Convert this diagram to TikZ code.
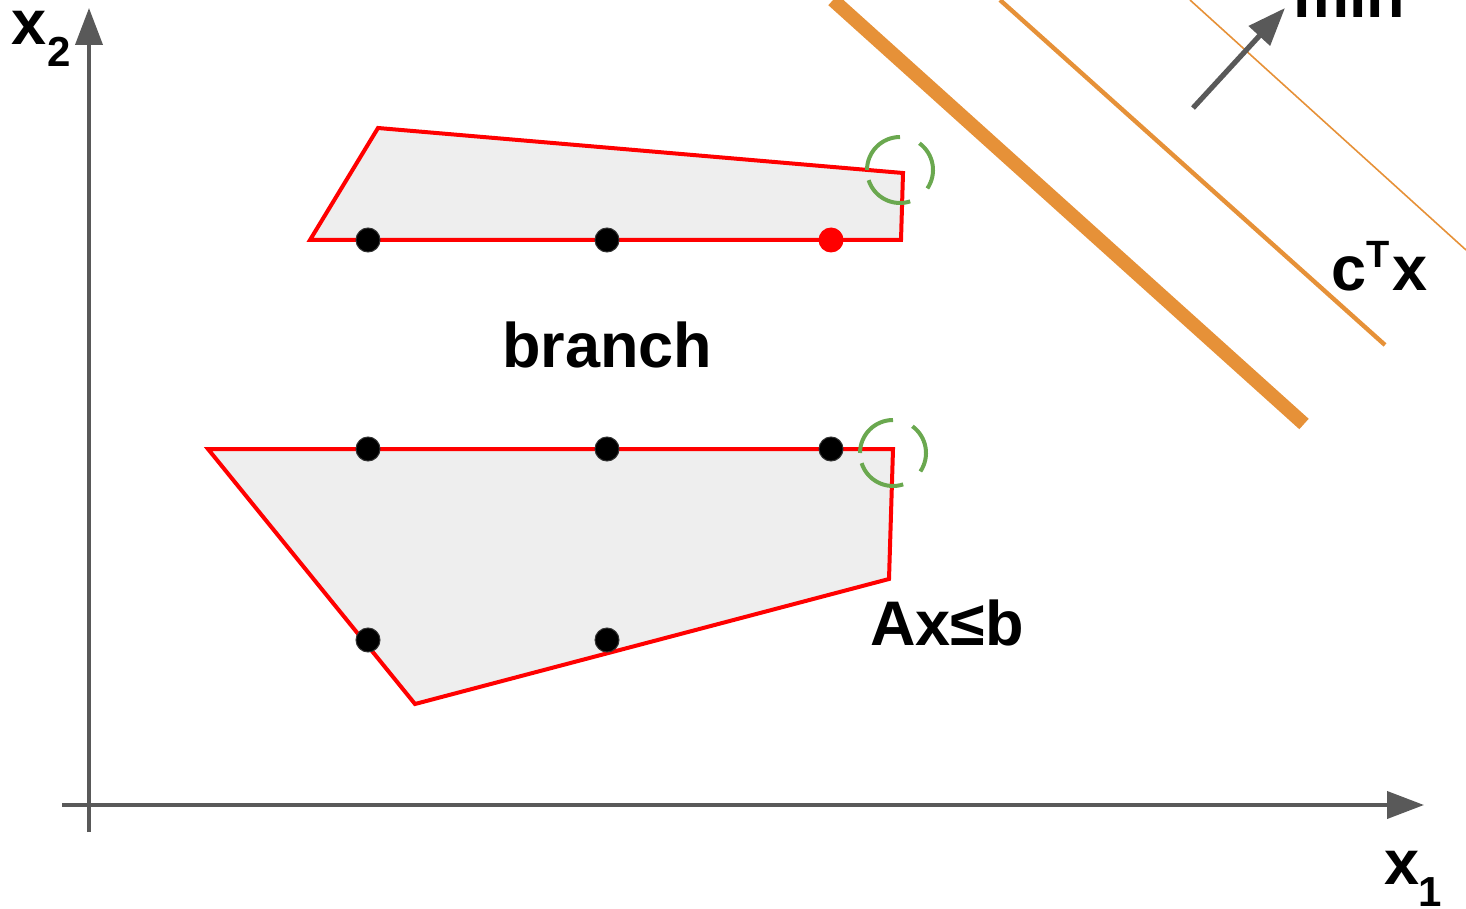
\documentclass[tikz,border=0pt]{standalone}
\usepackage{fontspec}
\setmainfont{Liberation Sans}
\usetikzlibrary{arrows.meta}
\definecolor{edgered}{HTML}{FF0000}
\definecolor{regionfill}{HTML}{EEEEEE}
\definecolor{objorange}{HTML}{E69138}
\definecolor{markgreen}{HTML}{6AA84F}
\definecolor{axisgray}{HTML}{595959}
\begin{document}
\begin{tikzpicture}[x=0.5pt,y=-0.5pt,
  lbl/.style={inner sep=0pt, anchor=base west, font=\fontsize{31.5}{31.5}\selectfont\bfseries},
  sublbl/.style={inner sep=0pt, anchor=base west, font=\fontsize{21}{21}\selectfont\bfseries},
  suplbl/.style={inner sep=0pt, anchor=base west, font=\fontsize{19}{19}\selectfont\bfseries},
  region/.style={draw=edgered, line width=2pt, fill=regionfill, line join=miter},
  axis/.style={draw=axisgray, line width=2pt, -{Triangle[length=18.5pt,width=13.5pt]}},
  level/.style={draw=objorange},
  lattice/.style={fill=black, draw=black!80, line width=0.5pt},
  incumbent/.style={fill=edgered},
  corner/.style={draw=markgreen, line width=2pt}]
\useasboundingbox (0,0) rectangle (1466,909);
\clip (0,0) rectangle (1466,909);

% feasible regions of the two subproblems
\draw[region] (378,128) -- (903,173) -- (901,240) -- (310,240) -- cycle;
\draw[region] (208,449) -- (893,449) -- (889,579) -- (415,704) -- cycle;

% integer points
\foreach \p in {(368,240),(607,240),(368,449),(607,449),(831,449),(368,640),(607,640)}
  \filldraw[lattice] \p circle[radius=12];
\fill[incumbent] (831,240) circle[radius=12.5];

% fractional LP optima marked by dashed circles
\foreach \c in {(900,170),(893,453)} {
  \draw[corner] \c ++(180:33) arc[start angle=180, end angle=270, radius=33];
  \draw[corner] \c ++(72:33) arc[start angle=72, end angle=162, radius=33];
  \draw[corner] \c ++(-54:33) arc[start angle=-54, end angle=34, radius=33];
}

% objective level lines
\draw[level, line width=7pt] (833,0) -- (1304,424);
\draw[level, line width=2.2pt] (1000,0) -- (1385,345);
\draw[level, line width=0.8pt] (1190,0) -- (1466,250);

% direction of optimisation
\coordinate (dirA) at (1193,108);
\coordinate (dirB) at (1285,8);
\draw[axisgray, line width=2.6pt, -{Triangle[length=19pt,width=14pt]}] (dirA) -- (dirB);

% axes
\coordinate (o1) at (89,832);
\coordinate (y2) at (89,8);
\coordinate (o2) at (62,805);
\coordinate (x1) at (1424,805);
\draw[axis] (o1) -- (y2);
\draw[axis] (o2) -- (x1);

% labels
\node[lbl] (lx2) at (11,45) {x};
\node[sublbl] (lx2s) at (47,67) {2};
\node[lbl] (lx1) at (1384,884) {x};
\node[sublbl] (lx1s) at (1418,906) {1};
\node[lbl] (lbranch) at (502,367) {branch};
\node[lbl] (lab) at (870,645) {Ax≤b};
\node[lbl] (lc) at (1331,290) {c};
\node[suplbl] (lT) at (1366,268) {T};
\node[lbl] (lx) at (1392,290) {x};
\node[lbl] (lmin) at (1293,18) {min};
\end{tikzpicture}
\end{document}
